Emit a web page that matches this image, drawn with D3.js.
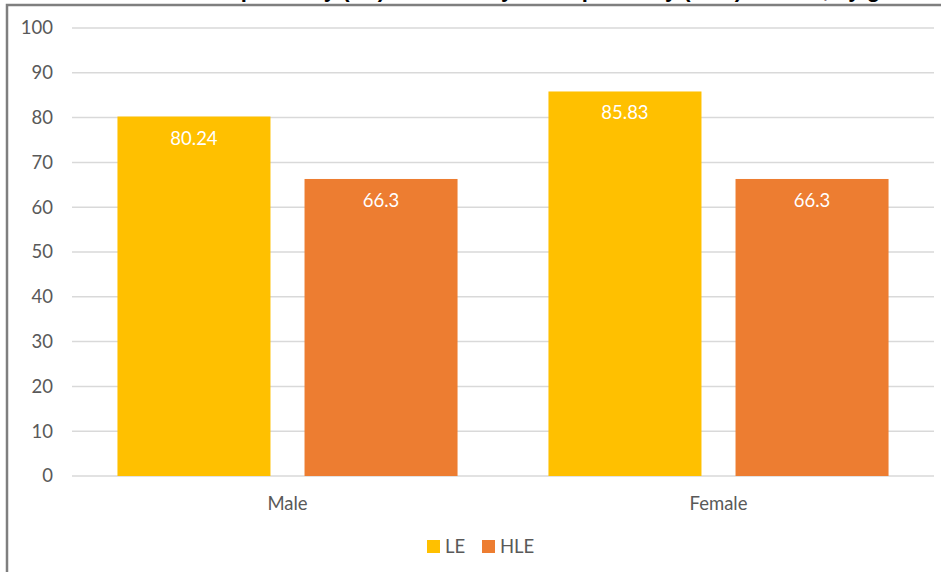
<!DOCTYPE html>
<html>
<head>
<meta charset="utf-8">
<script src="https://cdn.jsdelivr.net/npm/d3@7"></script>
<style>
  body { margin: 0; background: #fff; }
  svg { display: block; font-family: Lato, 'Open Sans', sans-serif; }
</style>
</head>
<body>
<svg width="941" height="572"></svg>
<script>
// chart data
var categories = ['Male', 'Female']
var series = ['LE', 'HLE']
var leValues = [80.24, 85.83]
var hleValues = [66.3, 66.3]
var yTicks = [0, 10, 20, 30, 40, 50, 60, 70, 80, 90, 100]
var colors = { LE: '#ffc000', HLE: '#ed7d31' }

var svg = d3.select('svg')

// title, mostly cut off by the top edge of the picture
svg.append('text')
  .attr('x', 940)
  .attr('y', -3)
  .attr('text-anchor', 'end')
  .style('font-family', 'Liberation Sans, Arial, sans-serif')
  .style('font-weight', 'bold')
  .style('font-size', '22px')
  .style('fill', '#000')
  .text('Life expectancy (LE) and healthy life expectancy (HLE) at birth, by gender')

// frame
svg.append('path')
  .attr('d', 'M7,572 V5 H941')
  .style('fill', 'none')
  .style('stroke', '#7f7f7f')
  .style('stroke-width', 2.5)

var plot = { left: 72, right: 934, top: 28, bottom: 476 }

var y = d3.scaleLinear().domain([0, 100]).range([plot.bottom, plot.top])
var x0 = d3.scaleBand().domain(categories).range([plot.left, plot.right])
var x1 = d3.scaleBand().domain(series).range([0, x0.bandwidth()])
  .paddingInner(0.182).paddingOuter(0.243)

// gridlines
svg.selectAll('line.grid')
  .data(yTicks)
  .enter()
  .append('line')
  .attr('class', 'grid')
  .attr('x1', plot.left)
  .attr('x2', plot.right)
  .attr('y1', (d) => y(d))
  .attr('y2', (d) => y(d))
  .style('stroke', '#d9d9d9')
  .style('stroke-width', 1.5)

// y axis labels
var yAxis = svg.append('g')
  .attr('transform', 'translate(' + 61 + ',0)')
  .call(d3.axisLeft(y).tickValues(yTicks).tickSize(0).tickPadding(8))
yAxis.select('.domain').remove()
yAxis.selectAll('text')
  .style('font-family', 'Lato, sans-serif')
  .style('font-size', '18.5px')
  .style('fill', '#595959')

// x axis labels
var xAxis = svg.append('g')
  .attr('transform', 'translate(0,' + plot.bottom + ')')
  .call(d3.axisBottom(x0).tickSize(0).tickPadding(21))
xAxis.select('.domain').remove()
xAxis.selectAll('text')
  .style('font-family', 'Lato, sans-serif')
  .style('font-size', '18.5px')
  .style('fill', '#595959')

// bars
var rows = categories.map((c, i) => {
  return { cat: c, values: [{ key: 'LE', value: leValues[i] }, { key: 'HLE', value: hleValues[i] }] }
})

var groups = svg.selectAll('g.group')
  .data(rows)
  .enter()
  .append('g')
  .attr('class', 'group')
  .attr('transform', (d) => 'translate(' + x0(d.cat) + ',0)')

groups.selectAll('rect')
  .data((d) => d.values)
  .enter()
  .append('rect')
  .attr('x', (d) => x1(d.key))
  .attr('width', x1.bandwidth())
  .attr('y', (d) => y(d.value))
  .attr('height', (d) => y(0) - y(d.value))
  .style('fill', (d) => colors[d.key])

groups.selectAll('text.label')
  .data((d) => d.values)
  .enter()
  .append('text')
  .attr('class', 'label')
  .attr('x', (d) => x1(d.key) + x1.bandwidth() / 2)
  .attr('y', (d) => y(d.value) + 28)
  .attr('text-anchor', 'middle')
  .style('font-size', '18.5px')
  .style('fill', '#fff')
  .text((d) => d.value)

// legend
var legend = svg.append('g')
  .attr('transform', 'translate(427,540)')
var items = legend.selectAll('g')
  .data(series)
  .enter()
  .append('g')
  .attr('transform', (d, i) => 'translate(' + (i * 55) + ',0)')
items.append('rect')
  .attr('width', 13)
  .attr('height', 13)
  .style('fill', (d) => colors[d])
items.append('text')
  .attr('x', 18)
  .attr('y', 13)
  .style('font-size', '18.5px')
  .style('fill', '#595959')
  .text((d) => d)
</script>
</body>
</html>
